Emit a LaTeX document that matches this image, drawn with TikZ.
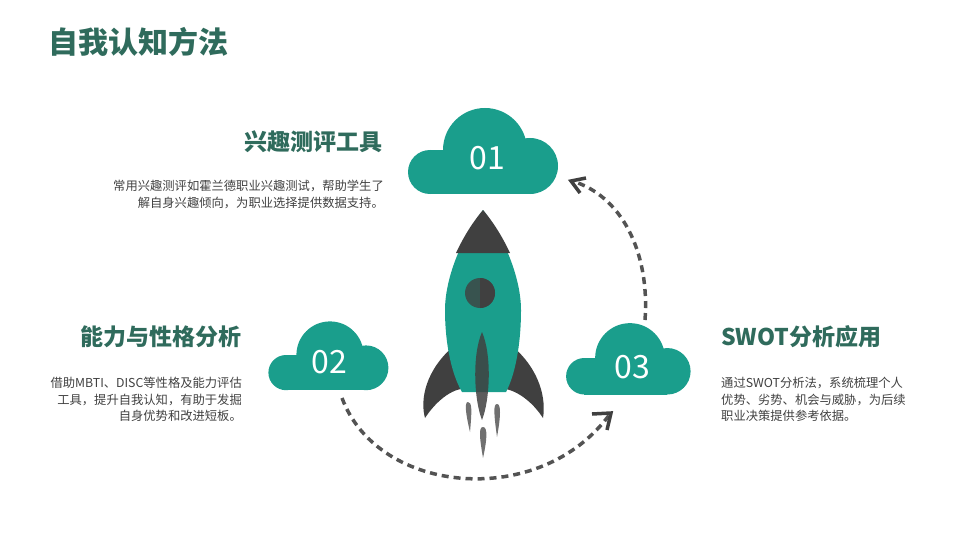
\documentclass[tikz,border=0pt]{standalone}
\usepackage{fontspec}
\setmainfont{Noto Sans CJK SC}
\usetikzlibrary{arrows.meta}
\definecolor{teal}{HTML}{1A9E8C}
\definecolor{dgreen}{HTML}{2F6B5C}
\definecolor{dgray}{HTML}{404040}
\definecolor{tgray}{HTML}{404040}
\tikzset{
 head/.style={font=\fontsize{23}{27}\selectfont\bfseries, text=dgreen, inner sep=0},
 body/.style={font=\fontsize{12.3}{16.5}\selectfont, text=tgray, inner sep=0},
 num/.style={font=\fontsize{32}{36}\selectfont, text=white, inner sep=0},
 dashline/.style={draw=dgray!90, line width=3.5pt, dash pattern=on 7pt off 5pt},
 cloud/.pic={\fill[teal] (-55,22) circle (22); \fill[teal] (0,0) circle (42); \fill[teal] (45,16) circle (28); \fill[teal] (-55,0) rectangle (45,44);}
}
\begin{document}
\begin{tikzpicture}[x=1pt,y=-1pt]
\useasboundingbox (0,0) rectangle (960,540);
\node[anchor=west,font=\fontsize{30}{34}\selectfont\bfseries,text=dgreen,inner sep=0] (title) at (48,42) {自我认知方法};
% clouds
\pic at (485,150) {cloud};
\pic[scale=0.8] at (330,355) {cloud};
\pic[scale=0.83] at (630,358) {cloud};
\node[num] (n1) at (487,158) {01};
\node[num] (n2) at (329,362) {02};
\node[num] (n3) at (632,367) {03};
% dashed arcs
\coordinate (a1s) at (645,320);
\coordinate (a1e) at (572,181);
\draw[dashline] (a1s) .. controls (650,250) and (620,195) .. (a1e);
\draw[dgray, line width=3.5pt] (586,178) -- (571,181) -- (580,193);
\coordinate (a2s) at (342,398);
\coordinate (a2e) at (610,414);
\draw[dashline] (a2s) .. controls (378,495) and (540,510) .. (a2e);
\draw[dgray, line width=3.5pt] (592,414) -- (611,413) -- (607,430);
% rocket
\fill[dgray] (455,345) .. controls (425,370) and (420,400) .. (425,418) .. controls (440,395) and (460,385) .. (470,390) -- cycle;
\fill[dgray] (511,345) .. controls (541,370) and (546,400) .. (543,418) .. controls (528,395) and (506,385) .. (496,390) -- cycle;
\fill[teal] (483,210) .. controls (460,240) and (445,280) .. (445,310) .. controls (445,345) and (452,375) .. (462,392) -- (506,392) .. controls (515,375) and (521,345) .. (521,310) .. controls (521,280) and (506,240) .. (483,210) -- cycle;
\fill[dgray] (483,210) .. controls (472,223) and (463,238) .. (456,253) -- (510,253) .. controls (503,238) and (494,223) .. (483,210) -- cycle;
\fill[dgray!80!teal] (480,293) circle (15);
\begin{scope}
\clip (480,270) rectangle (500,315);
\fill[dgray] (480,293) circle (15);
\end{scope}
\fill[dgray!75] (468,402) .. controls (472,402) and (472,410) .. (470,432) .. controls (466,415) and (464,402) .. (468,402) -- cycle;
\fill[dgray!75] (497,404) .. controls (501,404) and (501,415) .. (497,437) .. controls (494,415) and (493,404) .. (497,404) -- cycle;
\fill[dgray!75] (483,427) .. controls (488,427) and (487,440) .. (483,458) .. controls (480,440) and (478,427) .. (483,427) -- cycle;
\fill[dgray, opacity=0.85] (482,332) .. controls (492,355) and (490,400) .. (482,420) .. controls (474,400) and (472,355) .. (482,332) -- cycle;
% texts
\node[head,anchor=east] (h1) at (383,142) {兴趣测评工具};
\node[body,anchor=north east,align=right] (b1) at (384,180) {常用兴趣测评如霍兰德职业兴趣测试，帮助学生了\\解自身兴趣倾向，为职业选择提供数据支持。};
\node[head,anchor=east] (h2) at (242,337) {能力与性格分析};
\node[body,anchor=north east,align=right] (b2) at (242,377) {借助MBTI、DISC等性格及能力评估\\工具，提升自我认知，有助于发掘\\自身优势和改进短板。};
\node[head,anchor=west] (h3) at (721,337) {SWOT分析应用};
\node[body,anchor=north west,align=left] (b3) at (721,377) {通过SWOT分析法，系统梳理个人\\优势、劣势、机会与威胁，为后续\\职业决策提供参考依据。};
\end{tikzpicture}
\end{document}
